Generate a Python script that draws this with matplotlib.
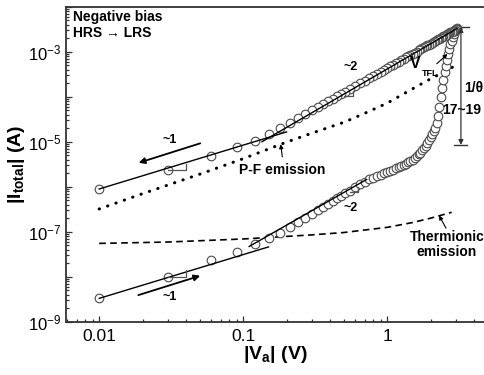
import math
import matplotlib
matplotlib.use('Agg')
import matplotlib.pyplot as plt
from matplotlib.ticker import FixedLocator, FuncFormatter, LogLocator, NullFormatter

plt.rcParams['font.family'] = ['Liberation Sans', 'DejaVu Sans']
plt.rcParams['mathtext.fontset'] = 'custom'
plt.rcParams['mathtext.rm'] = 'Liberation Sans'
plt.rcParams['mathtext.bf'] = 'Liberation Sans:bold'
plt.rcParams['mathtext.it'] = 'Liberation Sans:italic'

# ---------------- data ----------------
sweep_v = [0.01, 0.03, 0.06, 0.09, 0.12, 0.15, 0.18, 0.21, 0.24, 0.27, 0.30, 0.33,
           0.36, 0.39, 0.42, 0.45, 0.48, 0.51, 0.55, 0.60, 0.65, 0.70, 0.75, 0.80,
           0.85, 0.90, 0.95, 1.00, 1.05, 1.10, 1.15, 1.20, 1.25, 1.30, 1.35, 1.40,
           1.45, 1.50, 1.55, 1.60, 1.65, 1.70, 1.75, 1.80, 1.85, 1.90, 1.95, 2.00,
           2.05, 2.10, 2.15, 2.20, 2.25, 2.30, 2.35, 2.40, 2.45, 2.50, 2.55, 2.60,
           2.65, 2.70, 2.75, 2.80, 2.85, 2.90, 2.95, 3.00, 3.05]

# HRS -> LRS sweep (lower branch, increasing voltage)
hrs_i = [3.3e-9, 1.0e-8, 2.3e-8, 3.6e-8, 5.3e-8, 7.1e-8, 9.6e-8, 1.25e-7, 1.63e-7, 1.98e-7, 2.51e-7, 3.02e-7,
         3.59e-7, 4.19e-7, 4.84e-7, 5.54e-7, 6.28e-7, 7.07e-7, 8.19e-7, 9.71e-7, 1.13e-6, 1.29e-6, 1.45e-6, 1.58e-6,
         1.71e-6, 1.84e-6, 1.97e-6, 2.10e-6, 2.25e-6, 2.40e-6, 2.55e-6, 2.70e-6, 2.87e-6, 3.05e-6, 3.25e-6, 3.47e-6,
         3.72e-6, 4.00e-6, 4.35e-6, 4.75e-6, 5.20e-6, 5.70e-6, 6.40e-6, 7.20e-6, 8.20e-6, 9.30e-6, 1.07e-5, 1.25e-5,
         1.45e-5, 1.70e-5, 2.05e-5, 2.60e-5, 3.80e-5, 6.00e-5, 1.00e-4, 1.58e-4, 2.40e-4, 3.55e-4, 4.90e-4, 6.61e-4,
         8.91e-4, 1.17e-3, 1.45e-3, 1.74e-3, 2.09e-3, 2.51e-3, 2.82e-3, 3.16e-3, 3.31e-3]

# LRS sweep back (upper branch, decreasing voltage)
lrs_i = [8.9e-7, 2.35e-6, 4.8e-6, 7.5e-6, 1.05e-5, 1.5e-5, 2.05e-5, 2.62e-5, 3.32e-5, 4.11e-5, 4.97e-5, 5.90e-5,
         6.90e-5, 7.97e-5, 9.10e-5, 1.03e-4, 1.16e-4, 1.29e-4, 1.48e-4, 1.73e-4, 2.00e-4, 2.28e-4, 2.59e-4, 2.90e-4,
         3.24e-4, 3.59e-4, 3.96e-4, 4.34e-4, 4.74e-4, 5.15e-4, 5.58e-4, 6.03e-4, 6.49e-4, 6.96e-4, 7.45e-4, 7.95e-4,
         8.47e-4, 9.00e-4, 9.55e-4, 1.01e-3, 1.07e-3, 1.13e-3, 1.19e-3, 1.25e-3, 1.31e-3, 1.38e-3, 1.44e-3, 1.51e-3,
         1.58e-3, 1.65e-3, 1.72e-3, 1.79e-3, 1.87e-3, 1.94e-3, 2.02e-3, 2.10e-3, 2.18e-3, 2.26e-3, 2.34e-3, 2.42e-3,
         2.51e-3, 2.59e-3, 2.68e-3, 2.77e-3, 2.86e-3, 2.95e-3, 3.04e-3, 3.14e-3, 3.23e-3]

# Poole-Frenkel emission (dotted)
pf_v = [0.01, 0.02, 0.05, 0.1, 0.2, 0.3, 0.5, 0.7, 1.0, 1.5, 2.0, 2.5, 2.9]
pf_i = [3.2e-7, 7.0e-7, 1.9e-6, 4.2e-6, 9.8e-6, 1.55e-5, 2.7e-5, 4.3e-5, 7.2e-5, 1.5e-4, 2.5e-4, 3.6e-4, 4.7e-4]

# Thermionic emission (dashed)
te_v = [0.01, 0.03, 0.1, 0.3, 0.5, 1.0, 1.5, 2.0, 2.8]
te_i = [5.5e-8, 5.9e-8, 6.9e-8, 8.5e-8, 9.6e-8, 1.25e-7, 1.6e-7, 2.0e-7, 2.7e-7]

# fit lines
fit_lrs1_v = [0.01, 0.2]
fit_lrs1_i = [8.9e-7, 1.65e-5]
fit_lrs2_v = [0.135, 3.06]
fit_lrs2_i = [1.0e-5, 3.3e-3]
fit_hrs1_v = [0.01, 0.15]
fit_hrs1_i = [3.3e-9, 4.6e-8]
fit_hrs2_v = [0.11, 0.72]
fit_hrs2_i = [4.7e-8, 1.45e-6]

# slope triangles
tri_lrs1_v = [0.03, 0.04, 0.04]
tri_lrs1_i = [2.35e-6, 2.35e-6, 3.2e-6]
tri_hrs1_v = [0.03, 0.04, 0.04]
tri_hrs1_i = [1.0e-8, 1.0e-8, 1.4e-8]
tri_lrs2_v = [0.50, 0.58, 0.58]
tri_lrs2_i = [1.05e-4, 1.05e-4, 1.35e-4]
tri_hrs2_v = [0.55, 0.63, 0.63]
tri_hrs2_i = [7.6e-7, 7.6e-7, 1.0e-6]

# 1/theta bar
theta_v = 3.25
theta_top = 3.5e-3
theta_bot = 8.5e-6

x_ticks = [0.01, 0.1, 1]
x_ticklabels = ['0.01', '0.1', '1']
y_major = [1e-9, 1e-8, 1e-7, 1e-6, 1e-5, 1e-4, 1e-3, 1e-2]
y_labeled = [-9, -7, -5, -3]

# ---------------- figure ----------------
fig = plt.figure(figsize=(4.85, 3.75), dpi=100)
ax = fig.add_axes([0.1371, 0.1421, 0.8629, 0.840])
ax.set_xscale('log')
ax.set_yscale('log')
ax.set_xlim(10 ** -2.227, 10 ** 0.679)
ax.set_ylim(1e-9, 1e-2)

edge = '#4a4a4a'
ax.plot(sweep_v, hrs_i, 'o', ms=6.2, mfc='white', mec=edge, mew=0.8, zorder=3)
ax.plot(sweep_v[::-1], lrs_i[::-1], 'o', ms=6.2, mfc='white', mec=edge, mew=0.8, zorder=3)

ax.plot(pf_v, pf_i, color='k', lw=2.2, linestyle=(0, (0.1, 2.8)), dash_capstyle='round', zorder=2)
ax.plot(te_v, te_i, color='k', lw=1.2, linestyle=(0, (4, 2.6)), zorder=2)

for fv, fi in [(fit_lrs1_v, fit_lrs1_i), (fit_lrs2_v, fit_lrs2_i),
               (fit_hrs1_v, fit_hrs1_i), (fit_hrs2_v, fit_hrs2_i)]:
    ax.plot(fv, fi, color='k', lw=1.0, zorder=4)
for tv, ti in [(tri_lrs1_v, tri_lrs1_i), (tri_hrs1_v, tri_hrs1_i),
               (tri_lrs2_v, tri_lrs2_i), (tri_hrs2_v, tri_hrs2_i)]:
    ax.plot(tv, ti, color='#555555', lw=0.9, zorder=4)

# 1/theta bar
ax.annotate('', xy=(theta_v, theta_top), xytext=(theta_v, theta_bot),
            arrowprops=dict(arrowstyle='<|-|>', lw=0.9, color='#333333', mutation_scale=7,
                            shrinkA=0, shrinkB=0), zorder=5)
ax.plot([2.85, 3.7], [theta_top, theta_top], color='#333333', lw=1.0)
ax.plot([2.9, 3.6], [theta_bot, theta_bot], color='#333333', lw=1.0)

bold = dict(fontweight='bold', color='k')
ax.text(4.0, 1.55e-4, '1/θ', fontsize=10, ha='center', va='center', **bold)
ax.text(3.3, 5.06e-5, '17~19', fontsize=10, ha='center', va='center', **bold)

# slope arrows
ax.annotate('', xy=(0.0188, 3.4e-6), xytext=(0.0503, 9.2e-6),
            arrowprops=dict(arrowstyle='-|>', lw=1.3, color='k', mutation_scale=9, shrinkA=0, shrinkB=0))
ax.annotate('', xy=(0.0503, 1.05e-8), xytext=(0.0187, 3.9e-9),
            arrowprops=dict(arrowstyle='-|>', lw=1.3, color='k', mutation_scale=9, shrinkA=0, shrinkB=0))
ax.text(0.0311, 1.08e-5, '~1', fontsize=9, ha='center', va='center', **bold)
ax.text(0.0311, 3.5e-9, '~1', fontsize=9, ha='center', va='center', **bold)
ax.text(0.56, 4.6e-4, '~2', fontsize=9, ha='center', va='center', **bold)
ax.text(0.56, 3.4e-7, '~2', fontsize=9, ha='center', va='center', **bold)

# V_TFL
ax.text(1.57, 5.5e-4, 'V', fontsize=11.5, ha='center', va='center', **bold)
ax.text(2.0, 3.3e-4, 'TFL', fontsize=6.5, ha='center', va='center', **bold)
ax.annotate('', xy=(2.62, 8.9e-4), xytext=(2.21, 5.4e-4),
            arrowprops=dict(arrowstyle='-|>', lw=0.8, color='k', mutation_scale=6, shrinkA=0, shrinkB=0))

# P-F emission
ax.text(0.186, 2.34e-6, 'P-F emission', fontsize=10, ha='center', va='center', **bold)
ax.annotate('', xy=(0.182, 8.8e-6), xytext=(0.187, 4.6e-6),
            arrowprops=dict(arrowstyle='-|>', lw=0.8, color='k', mutation_scale=6, shrinkA=0, shrinkB=0))

# Thermionic emission
ax.text(2.6, 5.2e-8, 'Thermionic\nemission', fontsize=10, ha='center', va='center',
        linespacing=1.05, **bold)
ax.annotate('', xy=(2.29, 2.3e-7), xytext=(2.56, 1.2e-7),
            arrowprops=dict(arrowstyle='-|>', lw=0.8, color='k', mutation_scale=6, shrinkA=0, shrinkB=0))

# top-left text
ax.text(0.016, 0.99, 'Negative bias', transform=ax.transAxes, fontsize=10, ha='left', va='top', **bold)
ax.text(0.016, 0.94, 'HRS → LRS', transform=ax.transAxes, fontsize=10, ha='left', va='top', **bold)

# ticks
ax.xaxis.set_major_locator(FixedLocator(x_ticks))
ax.xaxis.set_major_formatter(FuncFormatter(lambda v, p: x_ticklabels[x_ticks.index(v)] if v in x_ticks else ''))
ax.xaxis.set_minor_locator(LogLocator(base=10, subs=range(2, 10), numticks=20))
ax.xaxis.set_minor_formatter(NullFormatter())
ax.yaxis.set_major_locator(FixedLocator(y_major))


def yfmt(v, p):
    e = int(round(math.log10(v)))
    return r'$10^{%d}$' % e if e in y_labeled else ''


ax.yaxis.set_major_formatter(FuncFormatter(yfmt))
ax.yaxis.set_minor_locator(LogLocator(base=10, subs=range(2, 10), numticks=20))
ax.yaxis.set_minor_formatter(NullFormatter())

ax.tick_params(which='both', direction='in', color='#333333', width=0.9)
ax.tick_params(which='major', length=4.5, labelsize=12, pad=3.5)
ax.tick_params(which='minor', length=2.3)
ax.tick_params(axis='x', which='major', pad=5, labelsize=12.5)

for s in ['left', 'bottom', 'top']:
    ax.spines[s].set_color('#333333')
    ax.spines[s].set_linewidth(1.3)
ax.spines['right'].set_visible(False)

ax.set_xlabel(r'$\mathbf{|V_a|\ (V)}$', fontsize=14)
ax.xaxis.set_label_coords(0.5, -0.07)
ax.set_ylabel(r'$\mathbf{|I_{total}|\ (A)}$', fontsize=14)
ax.yaxis.set_label_coords(-0.095, 0.5)

fig.savefig('out.png', dpi=100)
